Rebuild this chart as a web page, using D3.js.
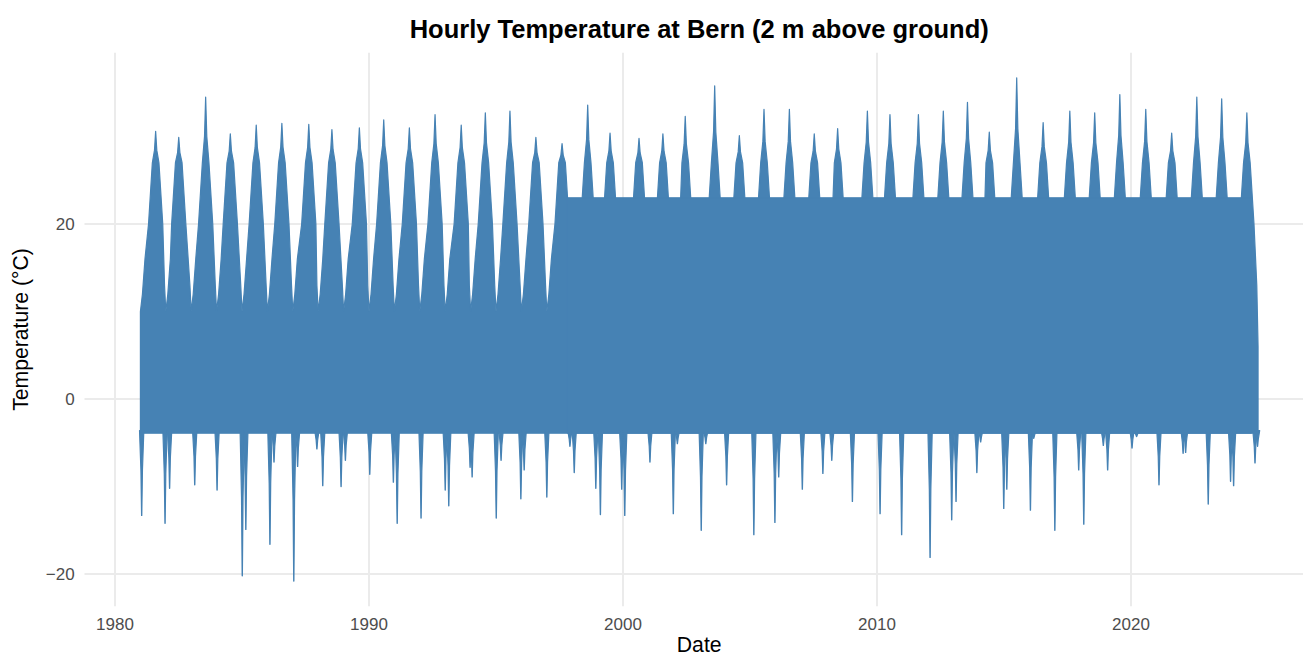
<!DOCTYPE html>
<html><head><meta charset="utf-8">
<script src="https://cdn.jsdelivr.net/npm/d3@7"></script>
<style>html,body{margin:0;padding:0;background:#fff;overflow:hidden}</style>
</head><body>
<svg id="chart" width="1303" height="655"></svg>
<script>
// ---------- data ----------
const titleText = "Hourly Temperature at Bern (2 m above ground)";
const xTitle = "Date";
const yTitle = "Temperature (°C)";

const xTickYears  = [1980, 1990, 2000, 2010, 2020];
const xTickLabels = ["1980", "1990", "2000", "2010", "2020"];
const yTickValues = [-20, 0, 20];
const yTickLabels = ["\u221220", "0", "20"];

const dataStart = 1981.0;          // decimal year
const dataEnd   = 2025.0;

// yearly summer peak (date as decimal year, temperature in °C)
const summerYears = [1981,1982,1983,1984,1985,1986,1987,1988,1989,1990,1991,1992,1993,1994,1995,1996,1997,1998,1999,2000,2001,2002,2003,2004,2005,2006,2007,2008,2009,2010,2011,2012,2013,2014,2015,2016,2017,2018,2019,2020,2021,2022,2023,2024];
const summerPeakDates = [1981.60,1982.51,1983.57,1984.54,1985.56,1986.57,1987.63,1988.54,1989.62,1990.58,1991.59,1992.60,1993.63,1994.58,1995.55,1996.57,1997.60,1998.61,1999.49,2000.63,2001.57,2002.45,2003.61,2004.58,2005.55,2006.55,2007.53,2008.45,2009.62,2010.51,2011.63,2012.61,2013.56,2014.42,2015.50,2016.54,2017.59,2018.57,2019.56,2020.58,2021.60,2022.59,2023.57,2024.56];
const summerPeaks = [30.6,29.9,34.5,30.3,31.3,31.5,31.4,30.8,31.0,31.9,31.0,32.5,31.3,32.7,32.9,29.9,29.2,33.6,30.4,29.8,30.3,32.3,35.8,30.1,33.1,33.1,30.3,30.9,32.9,32.5,32.5,32.9,33.9,30.5,36.7,31.6,32.9,32.7,34.8,33.1,30.4,34.5,34.3,32.7];

// typical seasonal upper envelope (offset from 1 Jan, °C)
const seasonOffsets = [0.00, 0.08, 0.18, 0.95];
const seasonTemps   = [10, 12, 16, 13];
// shape of the summer spike around its peak (offset from peak date, °C)
const spikeOffsets = [-0.28, -0.13, 0.13, 0.28];
const spikeTemps   = [20, 27, 27, 20];
const spikeNeckOffset = 0.045;     // narrow needle near the peak
const spikeNeckShare  = 0.4;       // share of (peak - 27) reached at the neck

// winter cold dips below the floor (date as decimal year, °C)
const dipDates = [1981.05,1981.97,1982.15,1983.14,1984.02,1985.01,1985.15,1986.10,1986.26,1987.04,1987.19,1987.95,1988.18,1988.90,1989.07,1990.03,1990.96,1991.11,1992.05,1993.00,1993.14,1993.98,1994.06,1995.01,1995.20,1995.98,1996.11,1997.00,1997.91,1998.08,1998.93,1999.11,1999.95,2000.07,2001.06,2001.98,2002.14,2003.08,2003.26,2004.08,2005.15,2005.98,2006.13,2007.06,2007.87,2008.22,2009.03,2010.12,2010.97,2012.09,2012.94,2013.11,2013.93,2014.08,2014.99,2015.11,2016.04,2016.17,2017.00,2017.94,2018.14,2018.91,2019.08,2020.04,2020.22,2021.10,2022.05,2022.15,2023.04,2023.92,2024.04,2024.88,2024.98];
const dipTemps = [-13.3,-14.2,-10.2,-9.8,-10.4,-20.2,-14.9,-16.6,-7.2,-20.8,-7.7,-5.7,-9.9,-10.0,-7.0,-8.6,-9.5,-14.2,-13.6,-10.4,-12.2,-7.8,-8.9,-13.6,-7.0,-11.4,-8.1,-11.2,-5.4,-8.4,-10.2,-13.2,-10.3,-13.3,-7.2,-13.1,-5.1,-15.0,-5.1,-9.8,-15.5,-14.1,-8.9,-10.3,-8.5,-7.0,-11.7,-13.1,-15.5,-18.1,-13.8,-11.7,-8.4,-4.9,-12.5,-10.3,-12.7,-4.5,-15.0,-8.1,-14.3,-5.3,-8.1,-5.6,-4.3,-9.8,-6.2,-6.1,-12.0,-9.4,-9.9,-7.3,-5.4];

const floorTemp   = -3.9;   // dense lower edge of the trace
const bandTopTemp = 23.0;   // dense upper edge after mid-1997
const bandStart   = 1997.8;
const bandEnd     = 2024.74;

// ---------- helpers ----------
function toDate(dy) {
  const y = Math.floor(dy);
  const a = Date.UTC(y, 0, 1), b = Date.UTC(y + 1, 0, 1);
  return new Date(a + (dy - y) * (b - a));
}

// ---------- layout ----------
const panel = { left: 84.5, top: 52.7, width: 1229.4, height: 553.5 };
const color = "#4682B4";
const font = "'Liberation Sans', Arial, Helvetica, sans-serif";

const svg = d3.select("#chart");

// scales (ggplot-like 5% expansion)
const yMin = Math.min(d3.min(dipTemps), floorTemp);
const yMax = d3.max(summerPeaks);
const yPad = (yMax - yMin) * 0.05;
const xPad = (dataEnd - dataStart) * 0.05;

const x = d3.scaleUtc()
  .domain([toDate(dataStart - xPad), toDate(dataEnd + xPad)])
  .range([panel.left, panel.left + panel.width]);
const y = d3.scaleLinear()
  .domain([yMin - yPad, yMax + yPad])
  .range([panel.top + panel.height, panel.top]);

// grid
const grid = svg.append("g");
grid.selectAll("line.h").data(yTickValues).join("line")
  .attr("x1", panel.left).attr("x2", panel.left + panel.width)
  .attr("y1", d => y(d)).attr("y2", d => y(d))
  .attr("stroke", "#EBEBEB").attr("stroke-width", 2);
grid.selectAll("line.v").data(xTickYears).join("line")
  .attr("x1", d => x(toDate(d))).attr("x2", d => x(toDate(d)))
  .attr("y1", panel.top).attr("y2", panel.top + panel.height)
  .attr("stroke", "#EBEBEB").attr("stroke-width", 2);

// envelope points
let env = [];
summerYears.forEach((yr, i) => {
  const pd = summerPeakDates[i], p = summerPeaks[i];
  const pts = [];
  seasonOffsets.forEach((o, k) => pts.push([yr + o, seasonTemps[k]]));
  spikeOffsets.forEach((o, k) => pts.push([pd + o, spikeTemps[k]]));
  const neck = 27 + (p - 27) * spikeNeckShare;
  pts.push([pd - spikeNeckOffset, neck], [pd, p], [pd + spikeNeckOffset, neck]);
  pts.sort((a, b) => a[0] - b[0]);
  env = env.concat(pts);
});
env.push([dataEnd, seasonTemps[0] - 4]);
env = env.filter(d => d[0] >= dataStart && d[0] <= dataEnd);

const marks = svg.append("g");

const area = d3.area()
  .x(d => x(toDate(d[0])))
  .y0(y(floorTemp))
  .y1(d => y(d[1]));

marks.append("path")
  .datum(env)
  .attr("d", area)
  .attr("fill", color).attr("stroke", color).attr("stroke-width", 1.2)
  .attr("stroke-linejoin", "round");

// dense band
marks.append("path")
  .datum([[bandStart, bandTopTemp], [bandEnd, bandTopTemp]])
  .attr("d", area)
  .attr("fill", color).attr("stroke", color).attr("stroke-width", 1);

// winter dips
const line = d3.line().x(d => x(toDate(d[0]))).y(d => y(d[1]));
dipDates.forEach((d, i) => {
  const v = dipTemps[i];
  const mid = floorTemp + (v - floorTemp) * 0.45;
  const pts = [[d - 0.085, floorTemp + 0.3], [d - 0.03, mid], [d - 0.004, v], [d + 0.004, v], [d + 0.03, mid], [d + 0.085, floorTemp + 0.3]];
  marks.append("path").attr("d", line(pts) + "Z")
    .attr("fill", color).attr("stroke", color).attr("stroke-width", 1.2)
    .attr("stroke-linejoin", "round");
});

// axis labels
svg.append("g").selectAll("text").data(xTickYears).join("text")
  .attr("x", d => x(toDate(d))).attr("y", 630)
  .attr("text-anchor", "middle")
  .attr("font-family", font).attr("font-size", 17).attr("fill", "#4D4D4D")
  .text((d, i) => xTickLabels[i]);

svg.append("g").selectAll("text").data(yTickValues).join("text")
  .attr("x", 74.7).attr("y", d => y(d)).attr("dy", "0.36em")
  .attr("text-anchor", "end")
  .attr("font-family", font).attr("font-size", 17).attr("fill", "#4D4D4D")
  .text((d, i) => yTickLabels[i]);

// titles
const cx = panel.left + panel.width / 2;
svg.append("text").attr("x", cx).attr("y", 38.3)
  .attr("text-anchor", "middle").attr("font-family", font)
  .attr("font-size", 25.5).attr("font-weight", "bold").attr("fill", "#000")
  .text(titleText);

svg.append("text").attr("x", cx).attr("y", 652)
  .attr("text-anchor", "middle").attr("font-family", font)
  .attr("font-size", 21.2).attr("fill", "#000")
  .text(xTitle);

const cy = panel.top + panel.height / 2;
svg.append("text")
  .attr("transform", `translate(28,${cy}) rotate(-90)`)
  .attr("text-anchor", "middle").attr("font-family", font)
  .attr("font-size", 21.2).attr("fill", "#000")
  .text(yTitle);
</script>
</body></html>
